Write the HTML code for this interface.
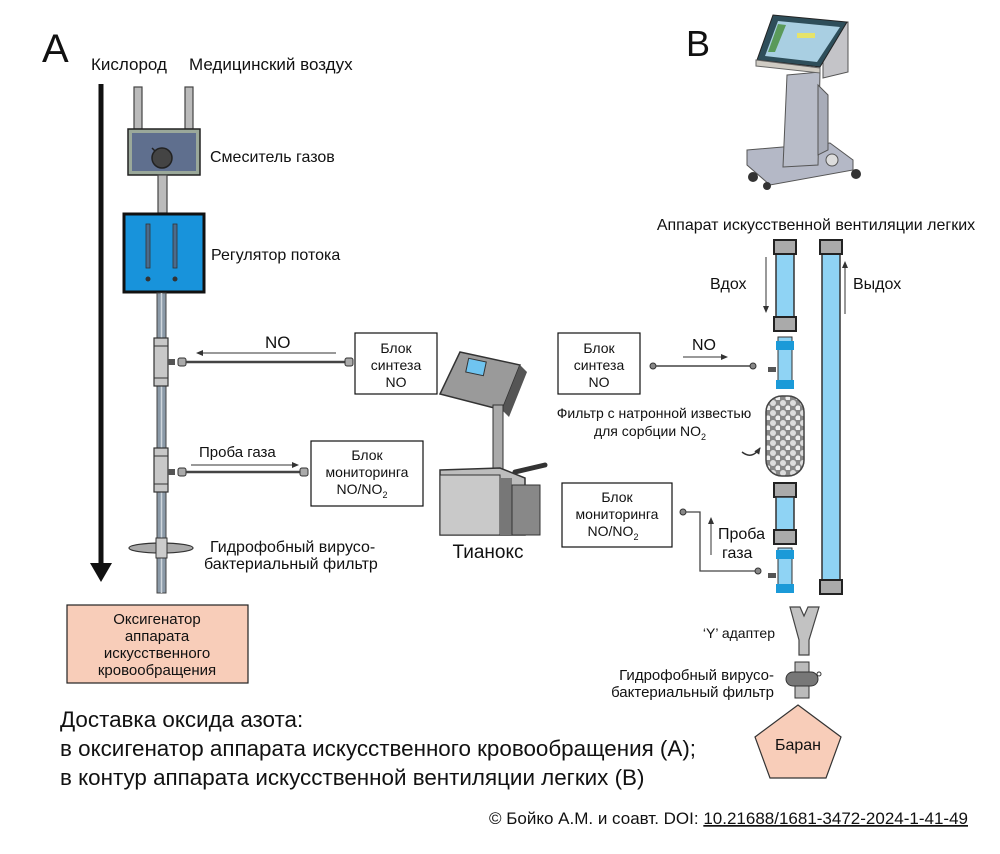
<!DOCTYPE html>
<html><head><meta charset="utf-8"><style>
html,body{margin:0;padding:0;background:#fff}
svg{display:block}
text{font-family:"Liberation Sans Narrow","Liberation Sans",sans-serif;fill:#111}
.a{font-family:"Liberation Sans",sans-serif}
</style></head><body>
<svg width="1000" height="854" viewBox="0 0 1000 854" xmlns="http://www.w3.org/2000/svg">
<defs>
<marker id="ah" markerWidth="8" markerHeight="8" refX="6" refY="4" orient="auto" markerUnits="userSpaceOnUse"><path d="M0,1 L7,4 L0,7 Z" fill="#333"/></marker>
<pattern id="pebble" width="10" height="10" patternUnits="userSpaceOnUse"><rect width="10" height="10" fill="#888"/><circle cx="3" cy="3" r="3" fill="#ddd"/><circle cx="8" cy="8" r="2.6" fill="#eee"/></pattern>
</defs>

<!-- Panel A -->
<text x="42" y="62" class="a" font-size="40">A</text>
<text x="91" y="70" font-size="17">Кислород</text>
<text x="189" y="70" font-size="17">Медицинский воздух</text>

<line x1="101" y1="84" x2="101" y2="565" stroke="#111" stroke-width="5"/>
<path d="M90,563 L101,582 L112,563 Z" fill="#111"/>

<rect x="134" y="87" width="8" height="42" fill="#bbb" stroke="#444" stroke-width="1.2"/>
<rect x="185" y="87" width="8" height="42" fill="#bbb" stroke="#444" stroke-width="1.2"/>
<rect x="128" y="129" width="72" height="46" fill="#9aa89a" stroke="#222" stroke-width="1.5"/>
<rect x="132" y="133" width="64" height="38" fill="#5f6f8e"/>
<circle cx="162" cy="158" r="10" fill="#444" stroke="#222" stroke-width="1.5"/>
<line x1="152" y1="148" x2="155" y2="151" stroke="#222" stroke-width="1.5"/>
<text x="210" y="162" font-size="16">Смеситель газов</text>
<rect x="158" y="175" width="9" height="38" fill="#bbb" stroke="#444" stroke-width="1.2"/>
<rect x="124" y="214" width="80" height="78" fill="#1893db" stroke="#111" stroke-width="3"/>
<rect x="146" y="224" width="4" height="44" fill="#4b6b8b" stroke="#333" stroke-width="0.8"/>
<rect x="173" y="224" width="4" height="44" fill="#4b6b8b" stroke="#333" stroke-width="0.8"/>
<circle cx="148" cy="279" r="2.5" fill="#333"/><circle cx="175" cy="279" r="2.5" fill="#333"/>
<text x="211" y="260" font-size="16">Регулятор потока</text>

<rect x="157" y="293" width="9" height="300" fill="#8b9aa8" stroke="#444" stroke-width="1"/>
<line x1="161.5" y1="293" x2="161.5" y2="593" stroke="#cfd6dc" stroke-width="1.5"/>
<rect x="154" y="338" width="14" height="48" fill="#c8c8c8" stroke="#333" stroke-width="1.2"/>
<line x1="154" y1="346" x2="168" y2="346" stroke="#333"/><line x1="154" y1="378" x2="168" y2="378" stroke="#333"/>
<rect x="168" y="359" width="7" height="6" fill="#555"/>
<rect x="178" y="358" width="8" height="8" rx="2" fill="#aaa" stroke="#333"/>
<line x1="186" y1="362" x2="345" y2="362" stroke="#444" stroke-width="2.5"/>
<rect x="345" y="358" width="8" height="8" rx="2" fill="#aaa" stroke="#333"/>
<line x1="336" y1="353" x2="197" y2="353" stroke="#333" stroke-width="1" marker-end="url(#ah)"/>
<text x="265" y="348" class="a" font-size="17">NO</text>
<rect x="355" y="333" width="82" height="61" fill="#fff" stroke="#111" stroke-width="1.2"/>
<text x="396" y="353" font-size="14" text-anchor="middle">Блок</text>
<text x="396" y="370" font-size="14" text-anchor="middle">синтеза</text>
<text x="396" y="387" font-size="14" text-anchor="middle">NO</text>
<rect x="154" y="448" width="14" height="44" fill="#c8c8c8" stroke="#333" stroke-width="1.2"/>
<line x1="154" y1="456" x2="168" y2="456" stroke="#333"/><line x1="154" y1="484" x2="168" y2="484" stroke="#333"/>
<rect x="168" y="469" width="7" height="6" fill="#555"/>
<rect x="178" y="468" width="8" height="8" rx="2" fill="#aaa" stroke="#333"/>
<line x1="186" y1="472" x2="300" y2="472" stroke="#444" stroke-width="2.5"/>
<rect x="300" y="468" width="8" height="8" rx="2" fill="#aaa" stroke="#333"/>
<line x1="191" y1="465" x2="298" y2="465" stroke="#333" stroke-width="1" marker-end="url(#ah)"/>
<text x="199" y="457" class="a" font-size="15">Проба газа</text>
<rect x="311" y="441" width="112" height="65" fill="#fff" stroke="#111" stroke-width="1.2"/>
<text x="367" y="460" font-size="14" text-anchor="middle">Блок</text>
<text x="367" y="477" font-size="14" text-anchor="middle">мониторинга</text>
<text x="362" y="494" font-size="14" text-anchor="middle">NO/NO<tspan font-size="9" dy="4">2</tspan></text>
<ellipse cx="161" cy="548" rx="32" ry="5" fill="#aaa" stroke="#333" stroke-width="1.2"/>
<rect x="156" y="538" width="11" height="20" fill="#ccc" stroke="#333"/>
<text x="210" y="552" font-size="16">Гидрофобный вирусо-</text>
<text x="204" y="569" font-size="16">бактериальный фильтр</text>

<rect x="67" y="605" width="181" height="78" fill="#f8cdb9" stroke="#222" stroke-width="1.2"/>
<text x="157" y="624" font-size="15" text-anchor="middle">Оксигенатор</text>
<text x="157" y="641" font-size="15" text-anchor="middle">аппарата</text>
<text x="157" y="658" font-size="15" text-anchor="middle">искусственного</text>
<text x="157" y="675" font-size="15" text-anchor="middle">кровообращения</text>

<!-- Tianox -->
<path d="M440,394 L460,352 L520,365 L502,410 Z" fill="#9a9a9a" stroke="#333" stroke-width="1.5"/>
<path d="M502,410 L520,365 L527,372 L509,417 Z" fill="#555"/>
<rect x="467" y="360" width="18" height="14" fill="#6fc4f0" stroke="#333" transform="rotate(12 476 367)"/>
<rect x="493" y="405" width="10" height="68" fill="#aaa" stroke="#333"/>
<path d="M440,470 L500,468 L525,478 L525,535 L440,535 Z" fill="#bdbdbd" stroke="#333" stroke-width="1.5"/>
<rect x="440" y="475" width="60" height="60" fill="#c9c9c9" stroke="#333"/>
<rect x="500" y="478" width="12" height="57" fill="#777"/>
<rect x="512" y="485" width="28" height="50" fill="#888" stroke="#333"/>
<path d="M515,472 L545,465" stroke="#333" stroke-width="5" stroke-linecap="round"/>
<text x="488" y="558" class="a" font-size="19" text-anchor="middle">Тианокс</text>

<!-- Panel B -->
<text x="686" y="56" class="a" font-size="36">B</text>
<!-- ventilator -->
<path d="M747,150 L830,143 L853,160 L853,170 L770,185 L747,165 Z" fill="#b4b8c6" stroke="#555"/>
<circle cx="753" cy="177" r="5" fill="#333"/><circle cx="856" cy="174" r="5" fill="#333"/><circle cx="767" cy="186" r="4" fill="#333"/>
<circle cx="832" cy="160" r="6" fill="#ddd" stroke="#555"/>
<path d="M787,75 L820,72 L818,165 L783,167 Z" fill="#b8bcc8" stroke="#555"/>
<path d="M818,85 L828,95 L828,150 L818,155 Z" fill="#a8acb8" stroke="#555"/>
<path d="M823,28 L848,22 L848,72 L823,78 Z" fill="#c4c4c8" stroke="#555"/>
<path d="M757,60 L773,15 L847,22 L820,67 Z" fill="#2e4e5a" stroke="#222"/>
<path d="M765,56 L778,21 L840,27 L817,62 Z" fill="#a9cfe2"/>
<path d="M768,52 L778,24 L786,25 L775,52 Z" fill="#5a9a5a"/>
<rect x="797" y="33" width="18" height="5" fill="#e6e36a"/>
<path d="M756,60 L820,68 L820,73 L756,66 Z" fill="#d0ccc4" stroke="#666"/>
<text x="816" y="230" font-size="16" text-anchor="middle">Аппарат искусственной вентиляции легких</text>

<rect x="776" y="246" width="18" height="76" fill="#8fd3f4" stroke="#333" stroke-width="1.5"/>
<rect x="774" y="240" width="22" height="14" fill="#aaa" stroke="#222" stroke-width="2"/>
<rect x="774" y="317" width="22" height="14" fill="#aaa" stroke="#222" stroke-width="2"/>
<rect x="778" y="337" width="14" height="44" fill="#8fd3f4" stroke="#333"/>
<rect x="776" y="341" width="18" height="9" fill="#1b9ad8"/>
<rect x="776" y="380" width="18" height="9" fill="#1b9ad8"/>
<rect x="768" y="367" width="8" height="5" fill="#555"/>
<rect x="766" y="396" width="38" height="80" rx="16" fill="url(#pebble)" stroke="#444" stroke-width="1.5"/>
<path d="M742,452 Q752,460 760,448" fill="none" stroke="#333" stroke-width="1.5" marker-end="url(#ah)"/>
<rect x="774" y="483" width="22" height="14" fill="#aaa" stroke="#222" stroke-width="2"/>
<rect x="776" y="497" width="18" height="35" fill="#8fd3f4" stroke="#333" stroke-width="1.5"/>
<rect x="774" y="530" width="22" height="14" fill="#aaa" stroke="#222" stroke-width="2"/>
<rect x="778" y="548" width="14" height="44" fill="#8fd3f4" stroke="#333"/>
<rect x="776" y="550" width="18" height="9" fill="#1b9ad8"/>
<rect x="776" y="584" width="18" height="9" fill="#1b9ad8"/>
<rect x="768" y="573" width="8" height="5" fill="#555"/>
<rect x="822" y="246" width="18" height="340" fill="#8fd3f4" stroke="#333" stroke-width="1.5"/>
<rect x="820" y="240" width="22" height="14" fill="#aaa" stroke="#222" stroke-width="2"/>
<rect x="820" y="580" width="22" height="14" fill="#aaa" stroke="#222" stroke-width="2"/>

<line x1="766" y1="257" x2="766" y2="312" stroke="#333" stroke-width="1" marker-end="url(#ah)"/>
<text x="710" y="289" class="a" font-size="16">Вдох</text>
<line x1="845" y1="314" x2="845" y2="262" stroke="#333" stroke-width="1" marker-end="url(#ah)"/>
<text x="853" y="289" class="a" font-size="16">Выдох</text>

<rect x="558" y="333" width="82" height="61" fill="#fff" stroke="#111" stroke-width="1.2"/>
<text x="599" y="353" font-size="14" text-anchor="middle">Блок</text>
<text x="599" y="370" font-size="14" text-anchor="middle">синтеза</text>
<text x="599" y="387" font-size="14" text-anchor="middle">NO</text>
<circle cx="653" cy="366" r="3" fill="#888" stroke="#333"/>
<line x1="656" y1="366" x2="750" y2="366" stroke="#444" stroke-width="1.5"/>
<circle cx="753" cy="366" r="3" fill="#888" stroke="#333"/>
<line x1="683" y1="357" x2="727" y2="357" stroke="#333" marker-end="url(#ah)"/>
<text x="692" y="350" class="a" font-size="16">NO</text>
<text x="654" y="418" font-size="14" text-anchor="middle">Фильтр с натронной известью</text>
<text x="650" y="436" font-size="14" text-anchor="middle">для сорбции NO<tspan font-size="9" dy="4">2</tspan></text>

<rect x="562" y="483" width="110" height="64" fill="#fff" stroke="#111" stroke-width="1.2"/>
<text x="617" y="502" font-size="14" text-anchor="middle">Блок</text>
<text x="617" y="519" font-size="14" text-anchor="middle">мониторинга</text>
<text x="613" y="536" font-size="14" text-anchor="middle">NO/NO<tspan font-size="9" dy="4">2</tspan></text>
<circle cx="683" cy="512" r="3" fill="#888" stroke="#333"/>
<polyline points="686,512 700,512 700,571 755,571" fill="none" stroke="#444" stroke-width="1.3"/>
<circle cx="758" cy="571" r="3" fill="#888" stroke="#333"/>
<line x1="711" y1="555" x2="711" y2="518" stroke="#333" marker-end="url(#ah)"/>
<text x="718" y="539" class="a" font-size="16">Проба</text>
<text x="722" y="558" class="a" font-size="16">газа</text>

<path d="M790,607 L800,607 L804,616 L808,607 L819,607 L809,640 L809,655 L799,655 L799,640 Z" fill="#c2c2c2" stroke="#444" stroke-width="1.2"/>
<text x="775" y="638" class="a" font-size="14" text-anchor="end">‘Y’ адаптер</text>
<rect x="795" y="662" width="14" height="36" fill="#bbb" stroke="#333"/>
<rect x="786" y="672" width="32" height="14" rx="7" fill="#777" stroke="#333"/>
<circle cx="819" cy="674" r="2" fill="none" stroke="#333"/>
<text x="774" y="680" font-size="15" text-anchor="end">Гидрофобный вирусо-</text>
<text x="774" y="697" font-size="15" text-anchor="end">бактериальный фильтр</text>
<polygon points="798,705 841,737 826,778 770,778 755,737" fill="#f8cdb9" stroke="#333" stroke-width="1.2"/>
<text x="798" y="750" font-size="16" text-anchor="middle">Баран</text>

<text x="60" y="727" font-size="22.4">Доставка оксида азота:</text>
<text x="60" y="756" font-size="22.4">в оксигенатор аппарата искусственного кровообращения (А);</text>
<text x="60" y="785" font-size="22.4">в контур аппарата искусственной вентиляции легких (В)</text>
<text x="968" y="824" font-size="17" text-anchor="end">© Бойко А.М. и соавт. DOI: <tspan text-decoration="underline">10.21688/1681-3472-2024-1-41-49</tspan></text>
</svg>
</body></html>
